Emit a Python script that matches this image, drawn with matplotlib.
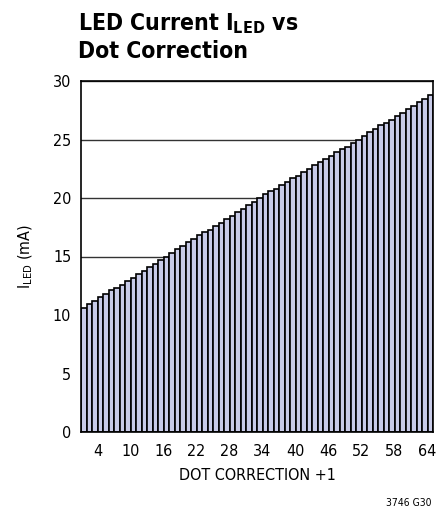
import numpy as np
import matplotlib
matplotlib.use("Agg")
import matplotlib.pyplot as plt

plt.rcParams['font.family'] = ['Liberation Sans Narrow', 'DejaVu Sans']
plt.rcParams['font.stretch'] = 'condensed'

# LED current for each dot correction step (DC + 1 = 1..64)
dot_correction = list(range(1, 65))
led_current = [
    10.6, 10.9, 11.2, 11.5, 11.8, 12.1, 12.3, 12.6, 12.9, 13.2,
    13.5, 13.8, 14.1, 14.4, 14.7, 15.0, 15.3, 15.6, 15.9, 16.2,
    16.5, 16.8, 17.1, 17.3, 17.6, 17.9, 18.2, 18.5, 18.8, 19.1,
    19.4, 19.7, 20.0, 20.3, 20.6, 20.8, 21.1, 21.4, 21.7, 21.9,
    22.2, 22.5, 22.8, 23.1, 23.3, 23.6, 23.9, 24.2, 24.4, 24.7,
    25.0, 25.3, 25.6, 25.9, 26.2, 26.4, 26.7, 27.0, 27.3, 27.6,
    27.9, 28.2, 28.5, 28.8,
]
x_ticks = [4, 10, 16, 22, 28, 34, 40, 46, 52, 58, 64]
y_ticks = [0, 5, 10, 15, 20, 25, 30]

fig = plt.figure(figsize=(4.45, 5.15), dpi=100)
ax = fig.add_axes([81 / 445, 1 - 432 / 515, 352 / 445, 351 / 515])

ax.bar(dot_correction, led_current, width=1.0, color='#c8cbe8',
       edgecolor='black', linewidth=1.2, zorder=2)

ax.set_xlim(0.5, 64.5)
ax.set_ylim(0, 30)
ax.set_yticks(y_ticks)
ax.set_xticks([t - 0.5 for t in x_ticks])
ax.set_xticklabels([str(t) for t in x_ticks])
ax.tick_params(length=0, labelsize=11.5)
ax.tick_params(axis='x', pad=9)
ax.tick_params(axis='y', pad=7)
ax.grid(axis='y', color='#333333', linewidth=1.0, zorder=0)
ax.set_axisbelow(True)
for s in ax.spines.values():
    s.set_linewidth(1.2)

ax.set_xlabel('DOT CORRECTION +1', fontsize=11.5, labelpad=6)
ax.set_ylabel(r'I$_{\mathregular{LED}}$ (mA)', fontsize=11.5, labelpad=13)

fig.text(78 / 445, 1 - 30 / 515, r'LED Current I$_{\mathregular{LED}}$ vs',
         fontsize=16.5, fontweight='bold', va='baseline', ha='left')
fig.text(78 / 445, 1 - 58 / 515, 'Dot Correction',
         fontsize=16.5, fontweight='bold', va='baseline', ha='left')
fig.text(432 / 445, 1 - 503 / 515, '3746 G30', fontsize=7.5,
         ha='right', va='center')

fig.savefig('out.png', dpi=100)
